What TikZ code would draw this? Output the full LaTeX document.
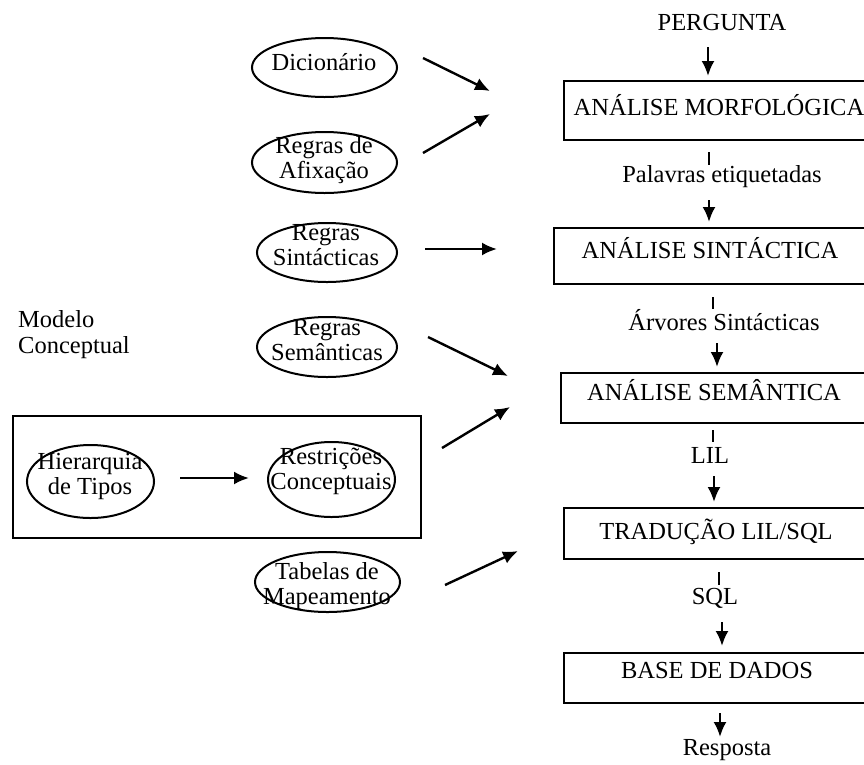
\documentclass[tikz,border=0pt]{standalone}
\usepackage{fontspec}
\setmainfont{Liberation Serif}
\usetikzlibrary{arrows.meta,shapes.geometric}
\begin{document}
\begin{tikzpicture}[x=1pt,y=-1pt,
  lbl/.style={font=\fontsize{24.5}{25}\selectfont, inner sep=0pt, align=center},
  llbl/.style={font=\fontsize{24.5}{26}\selectfont, inner sep=0pt, align=left, anchor=west},
  oval/.style={draw, ellipse, line width=2pt, inner sep=0pt},
  pbox/.style={draw, rectangle, line width=2.2pt, anchor=north west, inner sep=0pt},
  arr/.style={line width=2.4pt, -{Latex[length=15pt,width=13pt]}},
  tickline/.style={line width=2.2pt}]
\useasboundingbox (0,0) rectangle (864,764);
\clip (0,0) rectangle (864,764);

% ---------- right column ----------
\node[lbl] (perg) at (722,23) {PERGUNTA};
\node[pbox, minimum width=330pt, minimum height=59pt] (morf) at (563,80) {};
\node[lbl] (morfT) at (719,105) {ANÁLISE MORFOLÓGICA};
\node[lbl] (pal) at (722,177) {Palavras etiquetadas};
\node[pbox, minimum width=340pt, minimum height=56pt] (sint) at (553,227) {};
\node[lbl] (sintT) at (710,248) {ANÁLISE SINTÁCTICA};
\node[lbl] (arv) at (724,320) {Árvores Sintácticas};
\node[pbox, minimum width=333pt, minimum height=50pt] (sem) at (560,372) {};
\node[lbl] (semT) at (714,390) {ANÁLISE SEMÂNTICA};
\node[lbl] (lil) at (710,455) {LIL};
\node[pbox, minimum width=330pt, minimum height=51pt] (trad) at (563,507) {};
\node[lbl] (tradT) at (716,532) {TRADUÇÃO LIL/SQL};
\node[lbl] (sql) at (715,598) {SQL};
\node[pbox, minimum width=330pt, minimum height=50pt] (base) at (563,652) {};
\node[lbl] (baseT) at (717,670) {BASE DE DADOS};
\node[lbl] (resp) at (727,750) {Resposta};

% vertical arrows and ticks
\coordinate (v1a) at (708,47);  \coordinate (v1b) at (708,76);
\coordinate (t1a) at (709,152); \coordinate (t1b) at (709,165);
\coordinate (v2a) at (709,200); \coordinate (v2b) at (709,222);
\coordinate (t2a) at (713,297); \coordinate (t2b) at (713,309);
\coordinate (v3a) at (717,343); \coordinate (v3b) at (717,367);
\coordinate (t3a) at (713,430); \coordinate (t3b) at (713,442);
\coordinate (v4a) at (714,476); \coordinate (v4b) at (714,502);
\coordinate (t4a) at (719,572); \coordinate (t4b) at (719,585);
\coordinate (v5a) at (722,622); \coordinate (v5b) at (722,646);
\coordinate (v6a) at (720,713); \coordinate (v6b) at (720,737);
\draw[arr] (v1a) -- (v1b);
\draw[tickline] (t1a) -- (t1b);
\draw[arr] (v2a) -- (v2b);
\draw[tickline] (t2a) -- (t2b);
\draw[arr] (v3a) -- (v3b);
\draw[tickline] (t3a) -- (t3b);
\draw[arr] (v4a) -- (v4b);
\draw[tickline] (t4a) -- (t4b);
\draw[arr] (v5a) -- (v5b);
\draw[arr] (v6a) -- (v6b);

% ---------- left side ----------
\node[oval, minimum width=145pt, minimum height=59pt] (dic) at (324.5,67.5) {};
\node[lbl] (dicT) at (324,62) {Dicionário};
\node[oval, minimum width=145pt, minimum height=61pt] (afi) at (324.5,162.5) {};
\node[lbl] (afiT) at (324,160) {Regras de\\Afixação};
\node[oval, minimum width=140pt, minimum height=59pt] (rsin) at (327,252.5) {};
\node[lbl] (rsinT) at (326,245) {Regras\\Sintácticas};
\node[oval, minimum width=140pt, minimum height=60pt] (rsem) at (327,347) {};
\node[lbl] (rsemT) at (327,340) {Regras\\Semânticas};
\node[llbl] (mod) at (18,335) {Modelo\\Conceptual};
\node[pbox, minimum width=408pt, minimum height=122pt] (cm) at (12,415) {};
\node[oval, minimum width=127pt, minimum height=73pt] (hier) at (90.5,481.5) {};
\node[lbl] (hierT) at (90,476) {Hierarquia\\de Tipos};
\node[oval, minimum width=127pt, minimum height=75pt] (restr) at (331.5,479.5) {};
\node[lbl] (restrT) at (331,471) {Restrições\\Conceptuais};
\node[oval, minimum width=145pt, minimum height=60pt] (tab) at (327.5,582) {};
\node[lbl] (tabT) at (327,586) {Tabelas de\\Mapeamento};

\coordinate (d1a) at (423,58);  \coordinate (d1b) at (490,91);
\coordinate (d2a) at (423,153); \coordinate (d2b) at (490,114);
\coordinate (d3a) at (425,249); \coordinate (d3b) at (497,249);
\coordinate (d4a) at (428,337); \coordinate (d4b) at (508,376);
\coordinate (d5a) at (180,478); \coordinate (d5b) at (249,478);
\coordinate (d6a) at (442,448); \coordinate (d6b) at (510,407);
\coordinate (d7a) at (445,585); \coordinate (d7b) at (518,551);
\draw[arr] (d1a) -- (d1b);
\draw[arr] (d2a) -- (d2b);
\draw[arr] (d3a) -- (d3b);
\draw[arr] (d4a) -- (d4b);
\draw[arr] (d5a) -- (d5b);
\draw[arr] (d6a) -- (d6b);
\draw[arr] (d7a) -- (d7b);
\end{tikzpicture}
\end{document}
